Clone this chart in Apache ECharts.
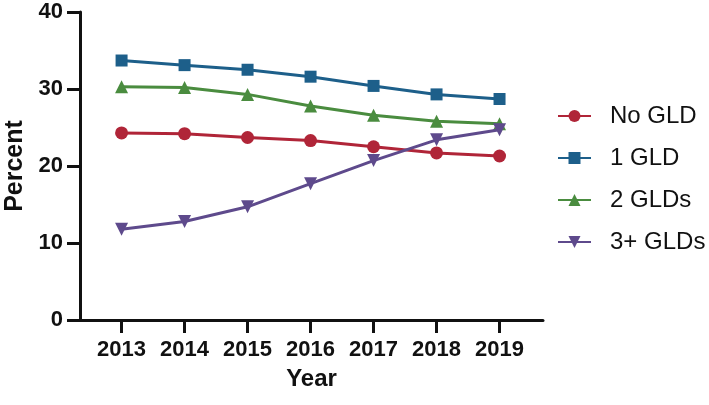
<!DOCTYPE html>
<html>
<head>
<meta charset="utf-8">
<script src="https://cdn.jsdelivr.net/npm/echarts@6/dist/echarts.min.js"></script>
<style>
html,body{margin:0;padding:0;background:#fff;}
#chart{width:709px;height:405px;}
</style>
</head>
<body>
<div id="chart"></div>
<script>
var years = [2013, 2014, 2015, 2016, 2017, 2018, 2019];
var noGLD = [24.3, 24.2, 23.7, 23.3, 22.5, 21.7, 21.3];
var oneGLD = [33.7, 33.1, 32.5, 31.6, 30.4, 29.3, 28.7];
var twoGLDs = [30.3, 30.2, 29.3, 27.8, 26.6, 25.8, 25.5];
var threeGLDs = [11.8, 12.8, 14.7, 17.7, 20.7, 23.4, 24.7];
var yTicks = [0, 10, 20, 30, 40];
var seriesNames = ['No GLD', '1 GLD', '2 GLDs', '3+ GLDs'];

var FONT = '"Liberation Sans", Arial, Helvetica, sans-serif';
var colors = ['#B02538', '#1D5F8A', '#4A8C3F', '#5E4A8C'];
var symbols = ['circle', 'rect', 'triangle', 'path://M0,0 L10,0 L5,9 Z'];
var sizes = [13, 12, 13, 13];
var allData = [noGLD, oneGLD, twoGLDs, threeGLDs];

function pairs(vals) {
  return years.map(function (y, i) { return [y, vals[i]]; });
}

var chart = echarts.init(document.getElementById('chart'), null, {renderer: 'canvas'});
chart.setOption({
  animation: false,
  backgroundColor: '#fff',
  color: colors,
  grid: {left: 80, right: 166, top: 12, bottom: 85, containLabel: false, outerBoundsMode: 'none'},
  legend: {
    orient: 'vertical',
    left: 557,
    top: 104,
    padding: 0,
    itemWidth: 33,
    itemHeight: 15,
    itemGap: 18,
    data: seriesNames,
    textStyle: {fontFamily: FONT, fontSize: 24, color: '#111', lineHeight: 24, padding: [0, 0, 0, 14]}
  },
  xAxis: {
    type: 'value',
    min: 2012.34,
    max: 2019.69,
    name: 'Year',
    nameLocation: 'middle',
    nameGap: 47,
    nameTextStyle: {fontFamily: FONT, fontSize: 24, fontWeight: 'bold', color: '#111'},
    axisLine: {show: true, lineStyle: {color: '#111', width: 3}},
    axisTick: {show: true, length: 13, lineStyle: {color: '#111', width: 3}, customValues: years},
    axisLabel: {
      customValues: years,
      margin: 19,
      fontFamily: FONT, fontSize: 22, fontWeight: 'bold', color: '#111',
      formatter: function (v) { return String(v); }
    },
    splitLine: {show: false}
  },
  yAxis: {
    type: 'value',
    min: 0,
    max: 40,
    interval: 10,
    name: 'Percent',
    nameLocation: 'middle',
    nameRotate: 90,
    nameGap: 48,
    nameTextStyle: {fontFamily: FONT, fontSize: 25, fontWeight: 'bold', color: '#111'},
    axisLine: {show: true, lineStyle: {color: '#111', width: 3}},
    axisTick: {show: true, length: 13, lineStyle: {color: '#111', width: 3}},
    axisLabel: {
      margin: 17,
      fontFamily: FONT, fontSize: 22, fontWeight: 'bold', color: '#111',
      formatter: function (v) { return yTicks.indexOf(v) >= 0 ? String(v) : ''; }
    },
    splitLine: {show: false}
  },
  series: seriesNames.map(function (name, i) {
    return {
      name: name,
      type: 'line',
      data: pairs(allData[i]),
      symbol: symbols[i],
      symbolSize: sizes[i],
      showAllSymbol: true,
      lineStyle: {width: 3, color: colors[i]},
      itemStyle: {color: colors[i]},
      z: 2 + i
    };
  })
});
</script>
</body>
</html>
